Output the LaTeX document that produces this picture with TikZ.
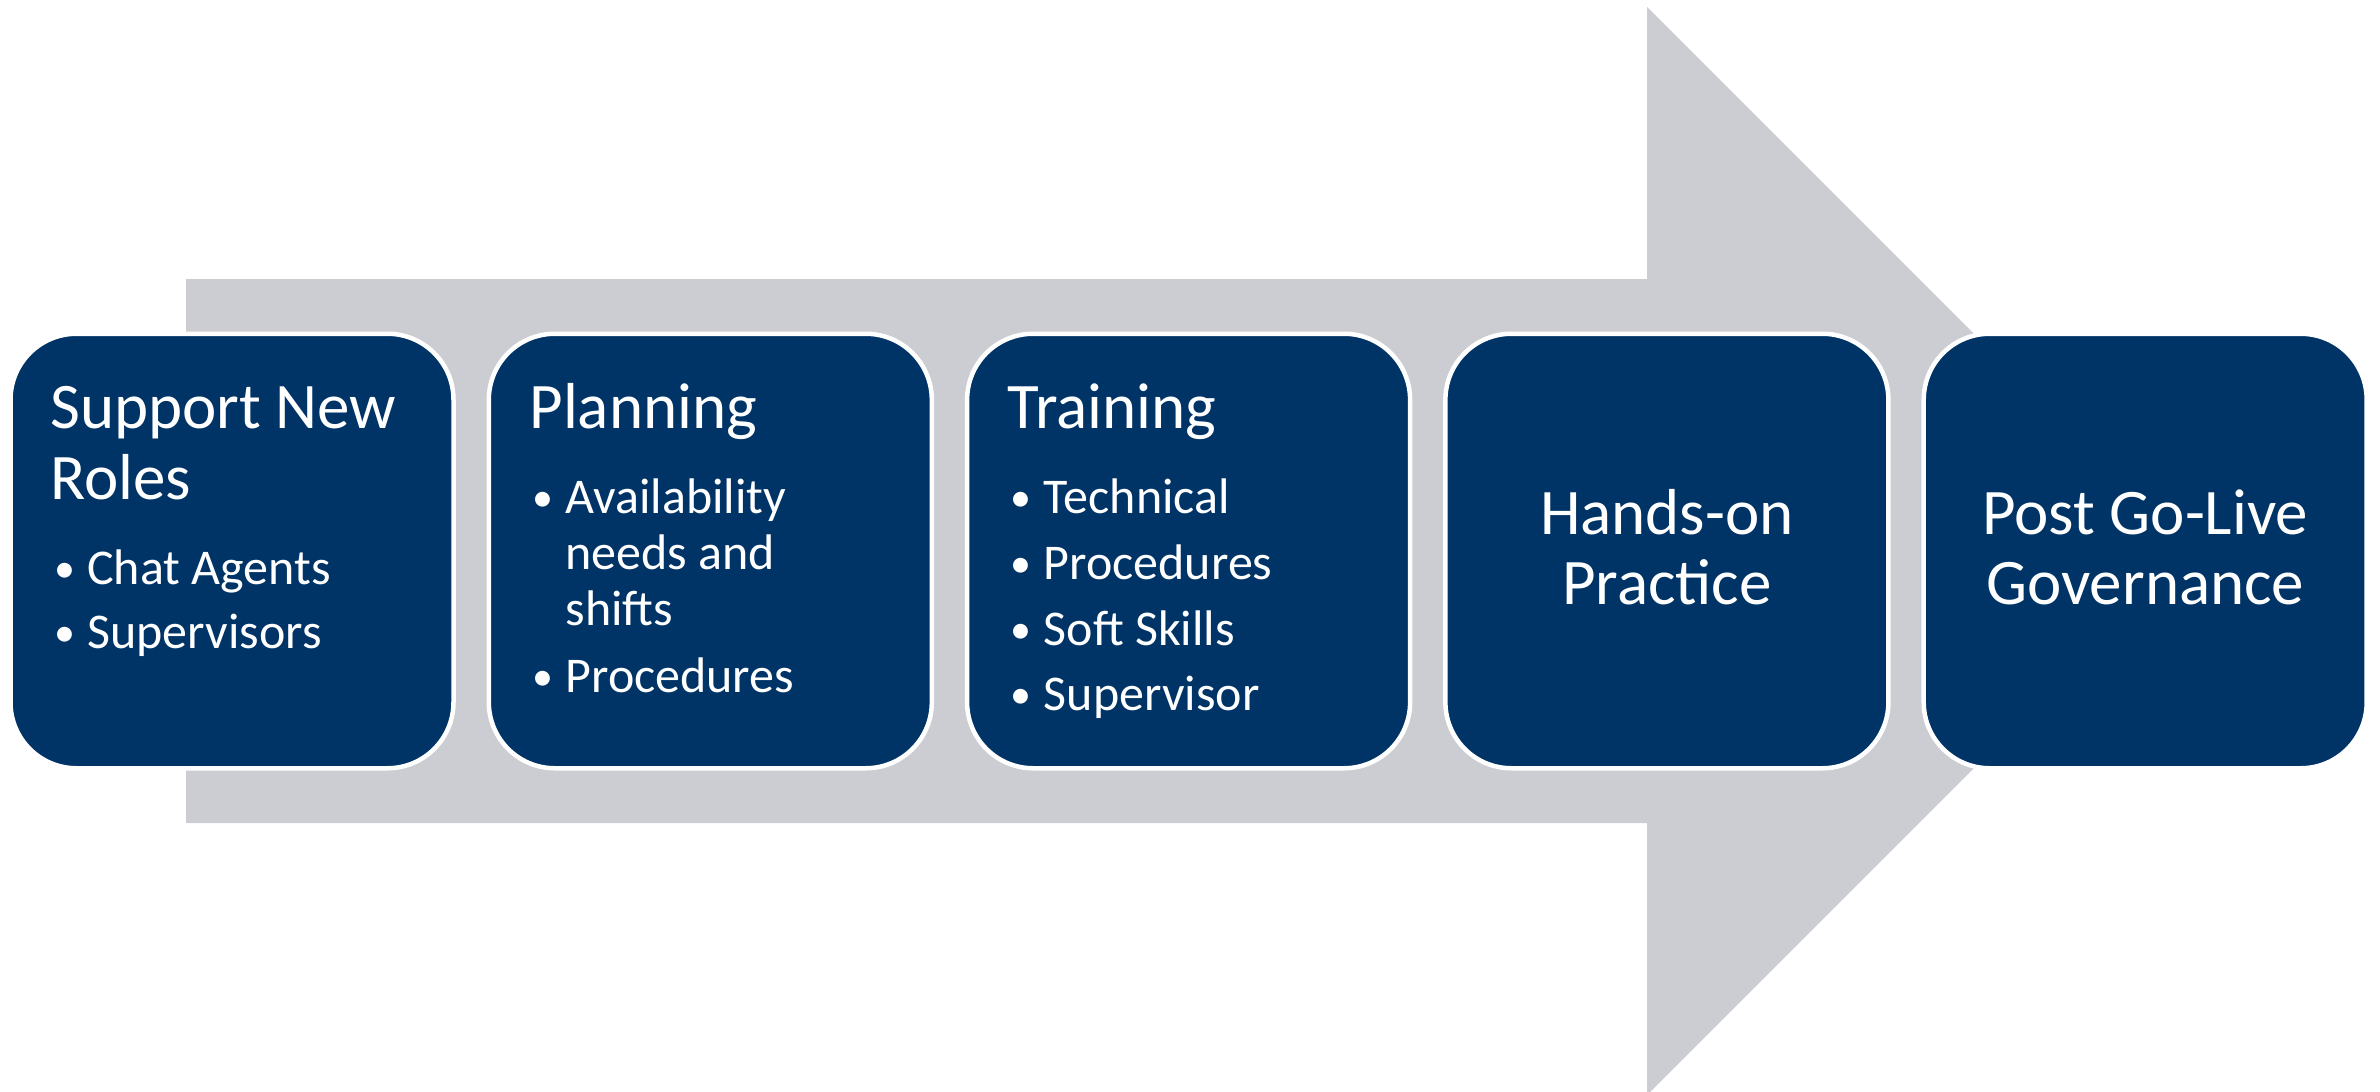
\documentclass[tikz,border=0pt]{standalone}
\usepackage{fontspec}
\setmainfont{Carlito}
\definecolor{navy}{RGB}{0,51,102}
\definecolor{shaft}{RGB}{204,205,210}
\begin{document}
\begin{tikzpicture}[x=1pt,y=-1pt,
  stage/.style={draw=white, line width=4.5pt, fill=navy, rounded corners=66pt,
    minimum width=443pt, minimum height=434.5pt, inner sep=0pt},
  ttl/.style={anchor=base west, inner sep=0pt, text=white, font=\fontsize{65}{70}\selectfont},
  ttlc/.style={ttl, anchor=base},
  itm/.style={anchor=base west, inner sep=0pt, text=white, font=\fontsize{50}{60}\selectfont},
  dotmark/.style={anchor=base west, inner sep=0pt, text=white, font=\fontsize{42}{50}\selectfont},
]
\path[use as bounding box] (0,0) rectangle (2380,1092);
\clip (0,0) rectangle (2380,1092);

% big background arrow
\fill[shaft] (186,279) -- (1647,279) -- (1647,7) -- (2191,551) -- (1647,1095)
  -- (1647,823) -- (186,823) -- cycle;

% stage boxes
\node[stage] (s1) at (232,551) {};
\node[stage] (s2) at (710.3,551) {};
\node[stage] (s3) at (1188.6,551) {};
\node[stage] (s4) at (1666.9,551) {};
\node[stage] (s5) at (2145.2,551) {};

% stage 1
\node[ttl] (t1a) at (50,428) {Support New};
\node[ttl] (t1b) at (50,499) {Roles};
\node[dotmark] (b1a) at (54,582) {•};
\node[itm] (i1a) at (87,584) {Chat Agents};
\node[dotmark] (b1b) at (54,646) {•};
\node[itm] (i1b) at (87,648) {Supervisors};

% stage 2
\node[ttl] (t2) at (529.3,428) {Planning};
\node[dotmark] (b2a) at (532.3,511) {•};
\node[itm] (i2a) at (565.3,513) {Availability};
\node[itm] (i2b) at (565.3,569) {needs and};
\node[itm] (i2c) at (565.3,625) {shifts};
\node[dotmark] (b2d) at (532.3,690) {•};
\node[itm] (i2d) at (565.3,692) {Procedures};

% stage 3
\node[ttl] (t3) at (1007.6,428) {Training};
\node[dotmark] (b3a) at (1010.6,511) {•};
\node[itm] (i3a) at (1043.6,513) {Technical};
\node[dotmark] (b3b) at (1010.6,577) {•};
\node[itm] (i3b) at (1043.6,579) {Procedures};
\node[dotmark] (b3c) at (1010.6,643) {•};
\node[itm] (i3c) at (1043.6,645) {Soft Skills};
\node[dotmark] (b3d) at (1010.6,708) {•};
\node[itm] (i3d) at (1043.6,710) {Supervisor};

% stage 4
\node[ttlc] (t4a) at (1666.9,534) {Hands-on};
\node[ttlc] (t4b) at (1666.9,604) {Practice};

% stage 5
\node[ttlc] (t5a) at (2145.2,534) {Post Go-Live};
\node[ttlc] (t5b) at (2145.2,604) {Governance};
\end{tikzpicture}
\end{document}
